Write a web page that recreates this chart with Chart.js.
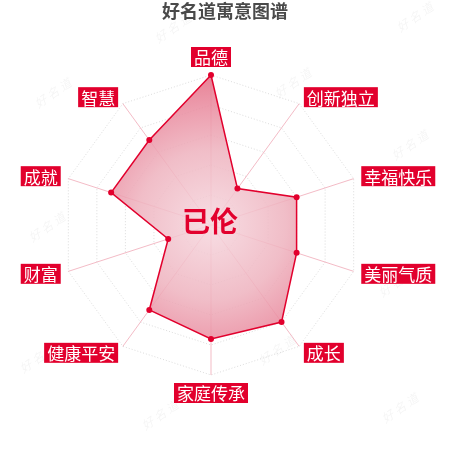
<!DOCTYPE html>
<html><head><meta charset="utf-8">
<script src="https://cdn.jsdelivr.net/npm/chart.js@4/dist/chart.umd.min.js"></script>
<style>html,body{margin:0;padding:0;background:#fff;overflow:hidden}#wrap{position:relative;width:450px;height:450px}</style>
</head><body><div id="wrap"><canvas id="c" width="450" height="450"></canvas></div>
<script>
const categories = ['品德','创新独立','幸福快乐','美丽气质','成长','家庭传承','健康平安','财富','成就','智慧'];
const scores = [100, 30, 60, 60, 80, 76, 70, 30, 70, 70];
const scaleMin = 0;
const scaleMax = 100;
const tickStep = 20;
const chartTitle = '好名道寓意图谱';
const centerName = '已伦';

const RED = '#e2002d';
const CJK = '"Noto Sans CJK SC", "Noto Sans", sans-serif';
const watermarks = [[173,28],[415,17],[53,93],[293,83],[410,145],[47,227],[38,358],[160,415],[277,350],[400,408],[397,282]];

function areaFill(ctx) {
  const chart = ctx.chart;
  const s = chart.scales && chart.scales.r;
  if (!chart.chartArea || !s) return 'rgba(235,150,165,0.8)';
  const g = chart.ctx.createRadialGradient(s.xCenter, s.yCenter, 0, s.xCenter, s.yCenter, s.drawingArea);
  g.addColorStop(0, 'rgba(246,216,223,0.85)');
  g.addColorStop(0.5, 'rgba(238,178,190,0.85)');
  g.addColorStop(0.8, 'rgba(233,137,157,0.85)');
  g.addColorStop(1, 'rgba(228,108,131,0.85)');
  return g;
}

const decor = {
  id: 'decor',
  beforeDraw(chart) {
    const c = chart.ctx;
    c.save();
    c.fillStyle = '#fff';
    c.fillRect(0, 0, chart.width, chart.height);
    c.font = 'italic 12px ' + CJK;
    c.fillStyle = 'rgba(0,0,0,0.045)';
    c.textAlign = 'center';
    c.textBaseline = 'middle';
    watermarks.forEach(([x, y]) => {
      c.save();
      c.translate(x, y);
      c.rotate(-0.6);
      c.fillText('好 名 道', 0, 0);
      c.restore();
    });
    c.restore();
  },
  afterDraw(chart) {
    const c = chart.ctx;
    const s = chart.scales.r;
    c.save();
    c.font = '17px ' + CJK;
    c.textBaseline = 'middle';
    c.textAlign = 'center';
    categories.forEach((name, i) => {
      const p = s.getPointPosition(i, s.drawingArea + 8);
      const deg = Math.round(i * 360 / categories.length);
      const w = c.measureText(name).width + 6;
      const h = 20;
      let x0, y0;
      if (deg === 0) { x0 = p.x - w / 2; y0 = p.y - h; }
      else if (deg === 180) { x0 = p.x - w / 2; y0 = p.y; }
      else if (deg < 180) { x0 = p.x; y0 = p.y - h / 2; }
      else { x0 = p.x - w; y0 = p.y - h / 2; }
      c.fillStyle = RED;
      c.fillRect(x0, y0, w, h);
      c.fillStyle = '#fff';
      c.fillText(name, x0 + w / 2, y0 + h / 2 + 1);
    });
    c.font = 'bold 18px ' + CJK;
    c.fillStyle = '#4a4a4a';
    c.fillText(chartTitle, chart.width / 2, 11);
    c.font = 'bold 28px ' + CJK;
    c.fillStyle = RED;
    c.fillText(centerName, s.xCenter - 1, s.yCenter - 4);
    c.restore();
  }
};

new Chart(document.getElementById('c'), {
  type: 'radar',
  data: {
    labels: categories,
    datasets: [{
      data: scores,
      fill: true,
      backgroundColor: areaFill,
      borderColor: RED,
      borderWidth: 1.5,
      pointRadius: 3,
      pointBackgroundColor: RED,
      pointBorderWidth: 0,
      pointHoverRadius: 3
    }]
  },
  options: {
    responsive: false,
    animation: false,
    layout: { padding: { left: 61, right: 89, top: 75, bottom: 75 } },
    plugins: { legend: { display: false }, tooltip: { enabled: false }, title: { display: false } },
    scales: {
      r: {
        min: scaleMin,
        max: scaleMax,
        ticks: { display: false, stepSize: tickStep },
        pointLabels: { display: false },
        grid: { color: 'rgba(185,185,185,0.5)', lineWidth: 1 },
        border: { dash: [1, 2] },
        angleLines: { color: 'rgba(236,150,168,0.65)', lineWidth: 1 }
      }
    }
  },
  plugins: [decor]
});
</script>
</body></html>
